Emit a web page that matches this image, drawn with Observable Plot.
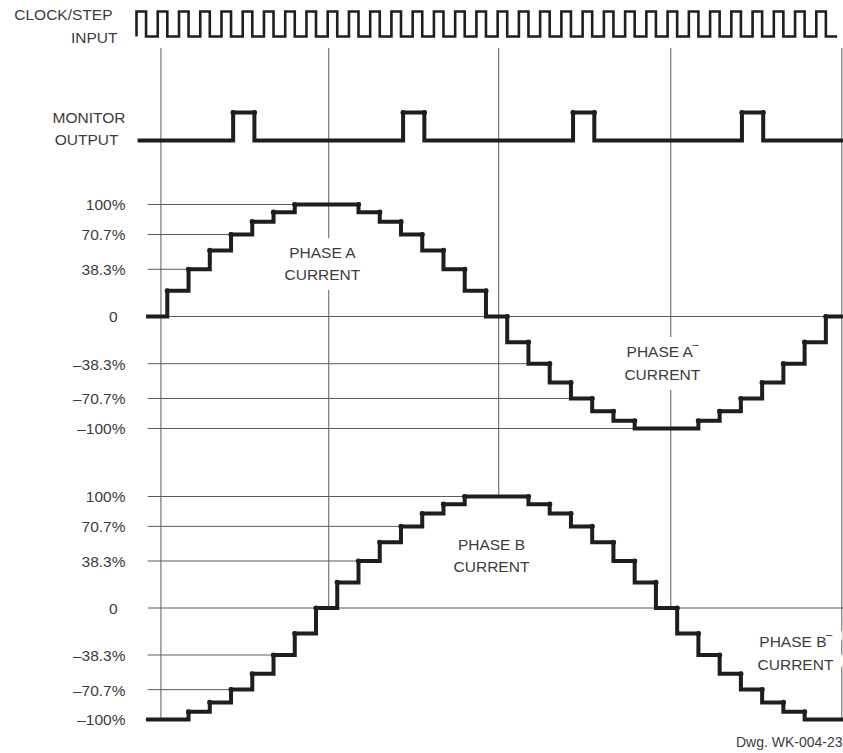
<!DOCTYPE html>
<html>
<head>
<meta charset="utf-8">
<script src="https://cdn.jsdelivr.net/npm/d3@7"></script>
<script src="https://cdn.jsdelivr.net/npm/@observablehq/plot@0.6"></script>
<style>
  html, body { margin: 0; padding: 0; background: #fff; }
  #chart { width: 843px; }
  #chart svg { display: block; }
</style>
</head>
<body>
<div id="chart"></div>
<script>
// Step number: one clock period per microstep (32 steps = one electrical cycle)
const steps = [0, 1, 2, 3, 4, 5, 6, 7, 8, 9, 10, 11, 12, 13, 14, 15, 16,
               17, 18, 19, 20, 21, 22, 23, 24, 25, 26, 27, 28, 29, 30, 31, 32];

// Winding current (% of full scale) held during each step
const phaseA = [0, 19.5, 38.3, 55.6, 70.7, 83.1, 92.4, 100, 100, 100, 92.4, 83.1, 70.7, 55.6, 38.3, 19.5,
                0, -19.5, -38.3, -55.6, -70.7, -83.1, -92.4, -100, -100, -100, -92.4, -83.1, -70.7, -55.6, -38.3, -19.5, 0];
const phaseB = [-100, -100, -92.4, -83.1, -70.7, -55.6, -38.3, -19.5, 0, 19.5, 38.3, 55.6, 70.7, 83.1, 92.4, 100,
                100, 100, 92.4, 83.1, 70.7, 55.6, 38.3, 19.5, 0, -19.5, -38.3, -55.6, -70.7, -83.1, -92.4, -100, -100];

// CLOCK/STEP input edges (in steps)
const clockRise = [-0.45, 0.55, 1.55, 2.55, 3.55, 4.55, 5.55, 6.55, 7.55, 8.55, 9.55, 10.55, 11.55, 12.55, 13.55, 14.55,
                   15.55, 16.55, 17.55, 18.55, 19.55, 20.55, 21.55, 22.55, 23.55, 24.55, 25.55, 26.55, 27.55, 28.55, 29.55, 30.55, 31.55];
const clockFall = [0, 1, 2, 3, 4, 5, 6, 7, 8, 9, 10, 11, 12, 13, 14, 15, 16,
                   17, 18, 19, 20, 21, 22, 23, 24, 25, 26, 27, 28, 29, 30, 31, 32];
const clockEnd = 32.53;

// MONITOR output pulses (home position)
const monitorStart = -0.4;
const monitorRise = [4.1, 12.1, 20.1, 28.05];
const monitorFall = [5.1, 13.1, 21.1, 29.05];

// Reference instants marked by thin vertical guides
const guideTimes = [0.7, 8.6, 16.6, 24.7, 32.75];

// Current-level ticks
const levelTicks = [100, 70.7, 38.3, 0, -38.3, -70.7, -100];
const levelLabels = ["100%", "70.7%", "38.3%", "0", "\u201338.3%", "\u201370.7%", "\u2013100%"];

// Waveform names
const labelsA = [
  {text: "PHASE A\nCURRENT", t: 8.3, level: 45},
  {text: "PHASE A\u203E\nCURRENT", t: 24.3, level: -36}
];
const labelsB = [
  {text: "PHASE B\nCURRENT", t: 16.26, level: 45},
  {text: "PHASE B\u203E\nCURRENT", t: 30.57, level: -35}
];
const drawingNumber = "Dwg. WK-004-23";

// ---- derived tables ----
const tMin = -0.45, tMax = 32.83;
const ink = "#1e1e1e", grid = "#5c5c5c", textColor = "#3c3c3c";
const font = "'Liberation Sans', Arial, sans-serif";

function stepTable(values) {
  const rows = steps.map((t, i) => ({t, v: values[i]}));
  rows.push({t: tMax, v: values[values.length - 1]});
  return rows;
}
function transitionDots(values) {
  const out = [];
  for (let i = 1; i < steps.length; i++) {
    if (values[i] !== values[i - 1]) out.push({t: steps[i], v: Math.max(values[i], values[i - 1])});
  }
  return out;
}
function gridTable(values) {
  return levelTicks.map((level, i) => ({
    level,
    label: levelLabels[i],
    end: level === 0 ? tMax : steps[values.indexOf(level)]
  }));
}

const clockPts = [{t: clockRise[0], v: 0}];
clockRise.forEach((r, i) => { clockPts.push({t: r, v: 1}, {t: clockFall[i], v: 0}); });
clockPts.push({t: clockEnd, v: 0});

const monitorPts = [{t: monitorStart, v: 0}];
monitorRise.forEach((r, i) => { monitorPts.push({t: r, v: 1}, {t: monitorFall[i], v: 0}); });
monitorPts.push({t: tMax, v: 0});
const monitorDots = monitorRise.flatMap((r, i) => [{t: r, v: 1}, {t: monitorFall[i], v: 1}]);

// ---- shared settings ----
const base = {
  width: 843,
  marginLeft: 136, marginRight: 0, marginTop: 0, marginBottom: 0,
  style: {fontFamily: font, fontSize: "16px", background: "#fff", color: textColor}
};
const xScale = {domain: [tMin, tMax], axis: null};
const textBase = {fontFamily: font, fontSize: 15.5, fill: textColor, lineAnchor: "middle"};

function rowLabel(text, level, dx, dy) {
  return Plot.text([text], {...textBase, frameAnchor: "left", textAnchor: "end", y: () => level, dx, dy});
}
function stepLine(data, width) {
  return Plot.line(data, {x: "t", y: "v", curve: "step-after", stroke: ink, strokeWidth: width,
                          strokeLinejoin: "miter", strokeLinecap: "butt", strokeMiterlimit: 4});
}
function levelAxis(rows) {
  return [
    Plot.text(rows.filter(d => d.level !== 0), {...textBase, frameAnchor: "left", textAnchor: "end", y: "level", text: "label", dx: -11, dy: 1}),
    Plot.text(rows.filter(d => d.level === 0), {...textBase, frameAnchor: "left", textAnchor: "end", y: "level", text: "label", dx: -19, dy: 1})
  ];
}
function gridRules(rows) {
  return Plot.ruleY(rows, {y: "level", x1: 0.1, x2: "end", stroke: grid, strokeWidth: 1});
}
function phaseLabels(rows) {
  return Plot.text(rows, {...textBase, x: "t", y: "level", text: "text", lineHeight: 1.45, textAnchor: "middle",
                          stroke: "#fff", strokeWidth: 20, strokeLinejoin: "round", paintOrder: "stroke"});
}

const chart = document.getElementById("chart");

// CLOCK/STEP INPUT
chart.append(Plot.plot({
  ...base, height: 75,
  x: xScale,
  y: {domain: [0, 1], range: [36, 11], axis: null},
  marks: [
    Plot.ruleX(guideTimes, {insetTop: 48, stroke: grid, strokeWidth: 1}),
    stepLine(clockPts, 2.6),
    rowLabel("CLOCK/STEP", 1, -24, 4),
    rowLabel("INPUT", 0, -19, 2)
  ]
}));

// MONITOR OUTPUT
chart.append(Plot.plot({
  ...base, height: 89,
  x: xScale,
  y: {domain: [0, 1], range: [65, 37], axis: null},
  marks: [
    Plot.ruleX(guideTimes, {stroke: grid, strokeWidth: 1}),
    stepLine(monitorPts, 4),
    Plot.dot(monitorDots, {x: "t", y: "v", r: 2.6, fill: ink}),
    rowLabel("MONITOR", 1, -11, 6),
    rowLabel("OUTPUT", 0, -18, 0)
  ]
}));

// PHASE A CURRENT
const gridA = gridTable(phaseA);
chart.append(Plot.plot({
  ...base, height: 291,
  x: xScale,
  y: {type: "pow", exponent: 0.9, domain: [-100, 100], range: [264, 40], axis: null},
  marks: [
    gridRules(gridA),
    Plot.ruleX(guideTimes, {stroke: grid, strokeWidth: 1}),
    phaseLabels(labelsA),
    stepLine(stepTable(phaseA), 4),
    Plot.dot(transitionDots(phaseA), {x: "t", y: "v", r: 2.6, fill: ink}),
    ...levelAxis(gridA)
  ]
}));

// PHASE B CURRENT
const gridB = gridTable(phaseB);
chart.append(Plot.plot({
  ...base, height: 298,
  x: xScale,
  y: {type: "pow", exponent: 0.9, domain: [-100, 100], range: [264, 41], axis: null},
  marks: [
    gridRules(gridB),
    // guides drop from the panel above down to the phase B waveform
    Plot.ruleX(guideTimes, {x: d => d, y1: d => phaseB[Math.floor(d)], y2: () => 100, insetBottom: 41,
                            stroke: grid, strokeWidth: 1}),
    phaseLabels(labelsB),
    stepLine(stepTable(phaseB), 4),
    Plot.dot(transitionDots(phaseB), {x: "t", y: "v", r: 2.6, fill: ink}),
    ...levelAxis(gridB),
    Plot.text([drawingNumber], {...textBase, fontSize: 14, frameAnchor: "bottom-right", textAnchor: "end", dx: -1, dy: -11})
  ]
}));
</script>
</body>
</html>
